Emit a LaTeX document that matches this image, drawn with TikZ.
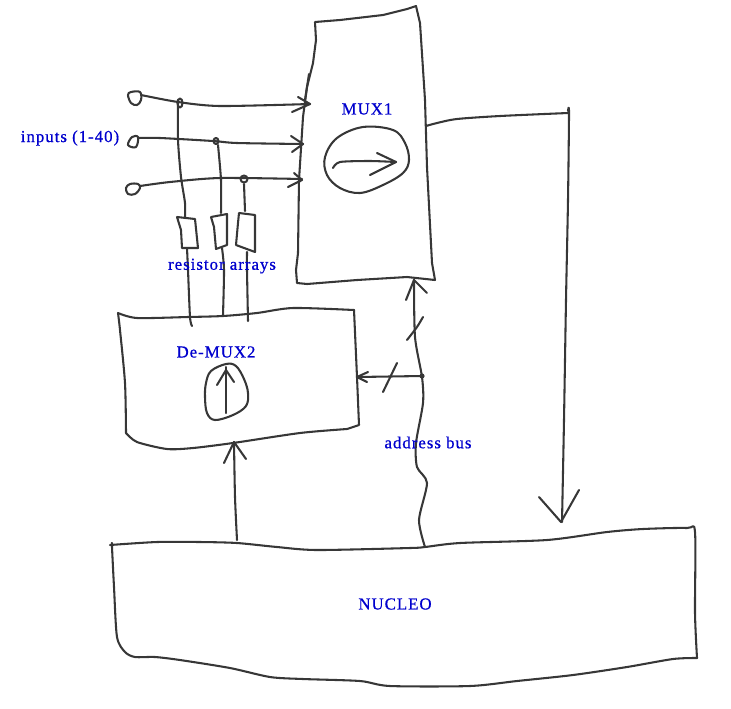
\documentclass[tikz,border=0pt]{standalone}
\usepackage{fontspec}
\newfontfamily\labelfont[LetterSpace=6,FakeBold=0.7]{Liberation Serif}
\definecolor{ink}{RGB}{55,55,55}
\definecolor{labelblue}{RGB}{0,0,205}
\tikzset{
  pen/.style={draw=ink,line width=1.55pt,line cap=round,line join=round},
  lbl/.style={text=labelblue,font=\labelfont\fontsize{12.6}{14}\selectfont,inner sep=0pt,anchor=center},
}
\newcommand{\sk}[1]{\draw[pen] plot[smooth,tension=0.45] coordinates {#1};}
\newcommand{\skc}[1]{\draw[pen] plot[smooth cycle,tension=0.6] coordinates {#1};}
\newcommand{\pl}[1]{\draw[pen] plot coordinates {#1};}
\begin{document}
\begin{tikzpicture}[x=0.75pt,y=-0.75pt]
\useasboundingbox (0,0) rectangle (731,708);
% MUX1
\pl{(315,22)(316,40)(313,63)(307,87)(303,117)(299,180)(298,253)(296,270)(297,283)(307,284)(357,280)(407,277)(435,280)(432,263)(427,167)(425,100)(420,23)(416,6)(407,9)(383,15)(340,20)(315,22)}
\sk{(309,74)(307,87)(305,100)}
% MUX1 wheel
\skc{(325,157)(337,138)(363,127)(393,130)(405,143)(409,160)(403,173)(383,185)(360,193)(340,188)(327,175)}
\sk{(333,168)(340,162)(370,161)(396,162)}
\pl{(377,153)(396,162)(370,175)}
% output
\sk{(426,126)(437,123)(457,119)(500,116)(568,113)}
\sk{(568,111)(569,113)(568,200)(566,300)(564,420)(562,522)}
\pl{(539,497)(561,522)(579,490)}
% inputs
\skc{(128,95)(131,92)(140,92)(141,100)(137,105)(131,103)}
\sk{(141,95)(178,102)(220,106)(310,104)}
\pl{(298,97)(310,104)(292,112)}
\skc{(128,145)(132,137)(138,137)(136,147)}
\sk{(138,138)(160,138)(213,141)(237,143)(303,144)}
\pl{(291,136)(303,144)(292,152)}
\skc{(126,188)(130,184)(138,184)(140,188)(135,194)(128,194)}
\sk{(140,186)(170,182)(220,178)(302,179)}
\pl{(294,173)(302,180)(288,187)}
% taps
\draw[pen] (180,103) ellipse [x radius=2.5,y radius=4.5];
\draw[pen] (216,141) ellipse [x radius=2.5,y radius=3];
\draw[pen] (244,179) ellipse [x radius=3.5,y radius=3.5];
\sk{(178,100)(178,140)(181,177)(185,203)(185,218)}
\sk{(218,145)(221,180)(221,213)}
\sk{(244,184)(245,211)}
% resistors
\pl{(177,217)(195,219)(198,248)(182,248)(181,230)(177,217)}
\pl{(211,217)(227,214)(227,245)(216,249)(214,227)(211,217)}
\pl{(239,213)(255,215)(255,252)(236,245)(238,223)(239,213)}
\sk{(187,248)(188,270)(190,317)(192,326)}
\sk{(222,248)(224,270)(223,315)}
\sk{(247,252)(247,270)(248,321)}
% De-MUX2
\sk{(118,313)(137,318)(188,317)(223,316)(257,313)(293,308)(354,310)}
\pl{(354,310)(357,377)(359,425)(347,429)}
\sk{(347,429)(300,433)(233,443)(193,448)(167,449)(137,442)(126,433)}
\sk{(126,433)(125,383)(120,330)(118,313)}
% De-MUX wheel
\skc{(206,383)(211,371)(226,364)(236,366)(244,379)(248,393)(246,406)(233,415)(215,420)(207,413)(205,397)}
\draw[pen] (226,413) -- (226,367);
\pl{(217,385)(226,370)(234,382)}
% arrow up
\sk{(237,540)(235,497)(234,442)}
\pl{(224,463)(234,442)(246,459)}
% bus
\sk{(425,547)(419,520)(427,483)(417,467)(416,443)(423,403)(422,377)(415,337)(414,280)}
\pl{(406,300)(414,280)(427,293)}
\sk{(407,340)(417,327)(423,317)}
\coordinate (tap) at (422,376);
\fill[ink] (tap) circle [radius=2.6];
\draw[pen] (tap) -- (357,377);
\pl{(368,372)(357,377)(367,382)}
\draw[pen] (397,363) -- (383,392);
% NUCLEO
\sk{(112,543)(112,547)(114,587)(117,637)(125,652)(135,657)(155,657)(180,660)(230,668)(270,677)(303,679)(360,681)(390,686)(470,686)(517,681)(573,675)(627,667)(673,659)(697,658)}
\sk{(697,658)(695,613)(695,532)(687,528)(643,529)(607,532)(547,540)(460,543)(425,547)(410,548)(317,550)(277,547)(237,543)(200,542)(157,542)(110,545)}
% labels
\node[lbl] (linputs) at (70,138) {inputs (1-40)};
\node[lbl] (lmux) at (367,109) {MUX1};
\node[lbl] (lres) at (222,266) {resistor arrays};
\node[lbl] (ldemux) at (216,352) {De-MUX2};
\node[lbl] (lbus) at (428,442.5) {address bus};
\node[lbl] (lnucleo) at (395,604) {NUCLEO};
\end{tikzpicture}
\end{document}
